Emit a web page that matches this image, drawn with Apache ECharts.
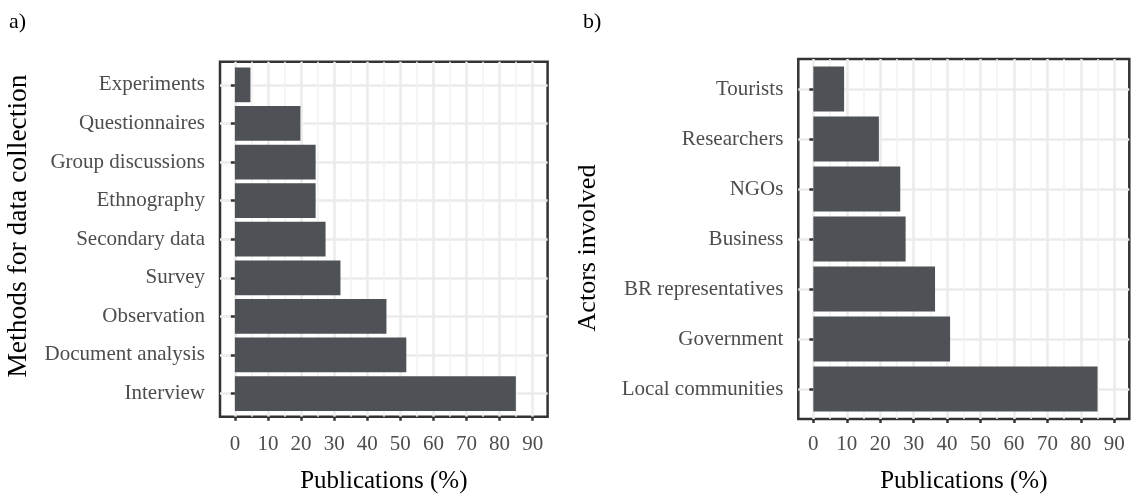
<!DOCTYPE html>
<html>
<head>
<meta charset="utf-8">
<script src="https://cdn.jsdelivr.net/npm/echarts@6/dist/echarts.min.js"></script>
<style>
  html, body { margin: 0; padding: 0; background: #fff; }
  #chart { width: 1132px; height: 495px; }
</style>
</head>
<body>
<div id="chart"></div>
<script>
// data, top to bottom as in the figure
const methods = ['Experiments', 'Questionnaires', 'Group discussions', 'Ethnography',
  'Secondary data', 'Survey', 'Observation', 'Document analysis', 'Interview'];
const methodValues = [4.7, 19.8, 24.4, 24.4, 27.4, 31.9, 45.8, 51.8, 84.9];

const actors = ['Tourists', 'Researchers', 'NGOs', 'Business', 'BR representatives',
  'Government', 'Local communities'];
const actorValues = [9.2, 19.6, 26.0, 27.6, 36.4, 40.9, 85.0];

const xTicks = [0, 10, 20, 30, 40, 50, 60, 70, 80, 90];

const FONT = 'Liberation Serif';
const BAR = '#4e5155';
const GRID_LINE = '#ebebeb';

let myChart = echarts.init(document.getElementById('chart'));

let grids = [], xAxes = [], yAxes = [], series = [];

// one ggplot-like panel = frame grid + gridline/label grid + bar grid
function addPanel(frame, cats, vals, xNameGap, xLabelMargin) {
  let base = grids.length;
  let xMin = xTicks[0], xMax = xTicks[xTicks.length - 1];
  let pad = (xMax - xMin) * 0.05;
  let ux = frame.width / (xMax - xMin + 2 * pad);
  let uy = frame.height / (cats.length - 1 + 1.2);
  let common = {outerBoundsMode: 'none', containLabel: false};

  grids.push(
    Object.assign({left: frame.left, top: frame.top, width: frame.width, height: frame.height,
      show: true, borderColor: '#333', borderWidth: 2.5, backgroundColor: 'transparent'}, common),
    Object.assign({left: frame.left + pad * ux, top: frame.top,
      width: (xMax - xMin) * ux, height: frame.height}, common),
    Object.assign({left: frame.left, top: frame.top + 0.1 * uy,
      width: frame.width, height: cats.length * uy}, common)
  );

  xAxes.push(
    {gridIndex: base, type: 'value', show: false, min: 0, max: 1},
    {
      gridIndex: base + 1, type: 'value', min: xMin, max: xMax, interval: xTicks[1] - xTicks[0],
      axisLine: {show: false},
      axisTick: {show: true, length: 4, lineStyle: {color: '#333', width: 2.5}},
      axisLabel: {color: '#4d4d4d', fontSize: 21, fontFamily: FONT, margin: xLabelMargin},
      splitLine: {show: true, lineStyle: {color: GRID_LINE, width: 2.5}},
      minorTick: {show: false, splitNumber: 2},
      minorSplitLine: {show: true, lineStyle: {color: '#f2f2f2', width: 1.5}},
      name: 'Publications (%)', nameLocation: 'middle', nameGap: xNameGap,
      nameTextStyle: {color: '#000', fontSize: 25, fontFamily: FONT}
    },
    {gridIndex: base + 2, type: 'value', show: false, min: xMin - pad, max: xMax + pad}
  );

  yAxes.push(
    {gridIndex: base, type: 'value', show: false},
    {gridIndex: base + 1, type: 'value', show: false},
    {
      gridIndex: base + 2, type: 'category', data: cats, inverse: true,
      axisLine: {show: false},
      axisTick: {show: true, alignWithLabel: true, interval: 0, length: 4,
        lineStyle: {color: '#333', width: 2.5}},
      axisLabel: {interval: 0, margin: 15, color: '#4d4d4d', fontSize: 21, fontFamily: FONT},
      splitLine: {show: true, alignWithLabel: true, interval: 0,
        lineStyle: {color: GRID_LINE, width: 2.5}}
    }
  );

  series.push({
    type: 'bar', xAxisIndex: base + 2, yAxisIndex: base + 2,
    data: vals, barWidth: '90%', silent: true,
    itemStyle: {color: BAR}
  });
}

addPanel({left: 220, top: 61.7, width: 327.6, height: 355}, methods, methodValues, 52, 17);
addPanel({left: 798.3, top: 59, width: 331, height: 360}, actors, actorValues, 50, 15);

// rotated y titles
function yTitle(text, x, y, size) {
  return {
    type: 'text', x: x, y: y, rotation: Math.PI / 2,
    style: {text: text, font: size + 'px "Liberation Serif"', fill: '#000',
      align: 'center', verticalAlign: 'middle'}
  };
}

myChart.setOption({
  animation: false,
  backgroundColor: '#fff',
  textStyle: {fontFamily: FONT},
  grid: grids,
  xAxis: xAxes,
  yAxis: yAxes,
  series: series,
  graphic: [
    {type: 'text', left: 9, top: 11, style: {text: 'a)', font: '22px "Liberation Serif"', fill: '#000'}},
    {type: 'text', left: 583, top: 11, style: {text: 'b)', font: '22px "Liberation Serif"', fill: '#000'}},
    yTitle('Methods for data collection', 18.5, 226, 27.5),
    yTitle('Actors involved', 588.5, 248, 26)
  ]
});
</script>
</body>
</html>
